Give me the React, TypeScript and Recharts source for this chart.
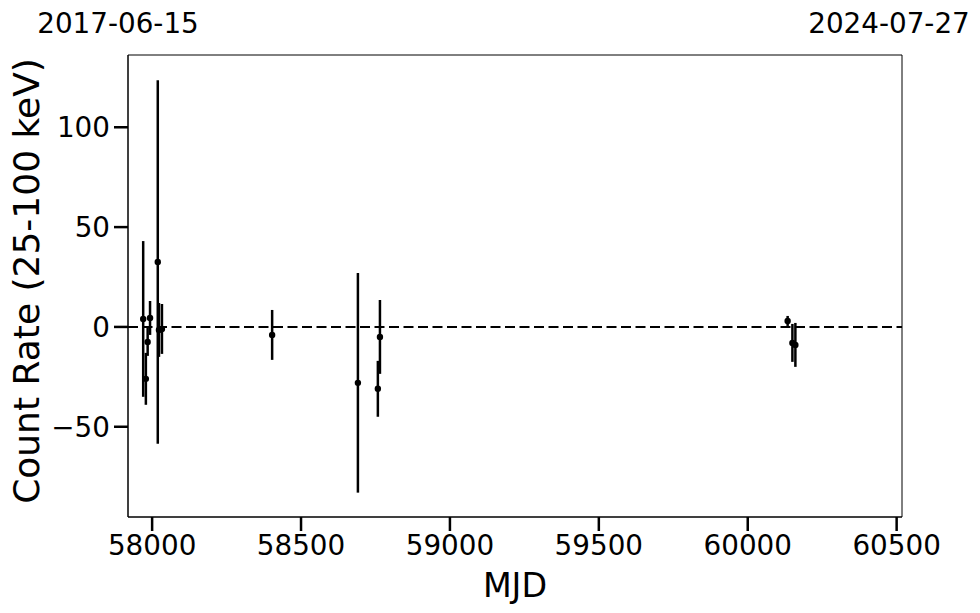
import React from 'react';
import {
  ComposedChart, Scatter, ErrorBar, XAxis, YAxis, ReferenceLine, ReferenceArea, Label,
} from 'recharts';

// light curve points
const mjd = [57970, 57979, 57985, 57993, 58019, 58023, 58033, 58403, 58691, 58758, 58765, 60134, 60150, 60160];
const rate = [4, -26, -7.5, 4.5, 32.5, -1.5, -1, -4, -28, -31, -5, 3, -8, -9];
const rateErr = [39, 13, 7, 8.5, 91, 13.5, 12.5, 12.5, 55, 14, 18.5, 2.5, 9.5, 11];

const xTicks = [58000, 58500, 59000, 59500, 60000, 60500];
const yTicks = [-50, 0, 50, 100];
const dateTicks = [57919, 60518];
const dateLabels = ['2017-06-15', '2024-07-27'];

const X_DOMAIN: [number, number] = [57919, 60518];
const Y_DOMAIN: [number, number] = [-95.2, 136.2];

const FONT = '"DejaVu Sans", sans-serif';

const data = mjd.map((m, i) => ({ mjd: m, rate: rate[i], err: rateErr[i] }));

const fmtY = (v: number) => (v < 0 ? '\u2212' + Math.abs(v) : String(v));

const Dot = (props: any) => {
  const { cx, cy } = props;
  if (cx == null || cy == null) return null;
  return <circle cx={cx} cy={cy} r={3.2} fill="#000" />;
};

const DateTick = (props: any) => {
  const { x, index } = props;
  const shift = index === 0 ? -10 : -13;
  return (
    <text x={x + shift} y={33} textAnchor="middle" fontSize={27.8} fontFamily={FONT} fill="#000">
      {dateLabels[index]}
    </text>
  );
};

export default function App() {
  return (
    <div style={{ position: 'absolute', left: 0, top: 0, width: 980, height: 613, background: '#fff' }}>
      <ComposedChart width={980} height={613} data={data} margin={{ top: 0, right: 78, bottom: 0, left: 0 }}>
        <XAxis
          xAxisId="top"
          orientation="top"
          type="number"
          dataKey="mjd"
          domain={X_DOMAIN}
          allowDataOverflow
          ticks={dateTicks}
          height={55}
          axisLine={false}
          tickLine={false}
          tick={<DateTick />}
        />
        <XAxis
          type="number"
          dataKey="mjd"
          domain={X_DOMAIN}
          allowDataOverflow
          ticks={xTicks}
          height={96}
          axisLine={{ stroke: '#000', strokeWidth: 1 }}
          tickLine={{ stroke: '#000', strokeWidth: 2.5 }}
          tickSize={14}
          tickMargin={4}
          tick={{ fill: '#000', fontSize: 27.8, fontFamily: FONT }}
        >
          <Label
            content={() => (
              <text x={515} y={597} textAnchor="middle" fontSize={33.3} fontFamily={FONT} fill="#000">
                MJD
              </text>
            )}
          />
        </XAxis>
        <YAxis
          type="number"
          domain={Y_DOMAIN}
          allowDataOverflow
          ticks={yTicks}
          width={128}
          tickFormatter={fmtY}
          axisLine={{ stroke: '#000', strokeWidth: 1 }}
          tickLine={{ stroke: '#000', strokeWidth: 2.5 }}
          tickSize={14}
          tickMargin={4}
          tick={{ fill: '#000', fontSize: 27.8, fontFamily: FONT }}
        >
          <Label
            content={() => (
              <text
                x={39}
                y={281}
                transform="rotate(-90, 39, 281)"
                textAnchor="middle"
                fontSize={36}
                fontFamily={FONT}
                fill="#000"
              >
                Count Rate (25-100 keV)
              </text>
            )}
          />
        </YAxis>
        <ReferenceArea
          x1={X_DOMAIN[0]}
          x2={X_DOMAIN[1]}
          y1={Y_DOMAIN[0]}
          y2={Y_DOMAIN[1]}
          fill="none"
          fillOpacity={0}
          stroke="#000"
          strokeWidth={1}
        />
        <ReferenceLine y={0} stroke="#000" strokeWidth={2} strokeDasharray="10 4.5" />
        <Scatter dataKey="rate" fill="#000" shape={<Dot />} isAnimationActive={false}>
          <ErrorBar dataKey="err" direction="y" width={0} stroke="#000" strokeWidth={2.5} isAnimationActive={false} />
        </Scatter>
      </ComposedChart>
    </div>
  );
}
